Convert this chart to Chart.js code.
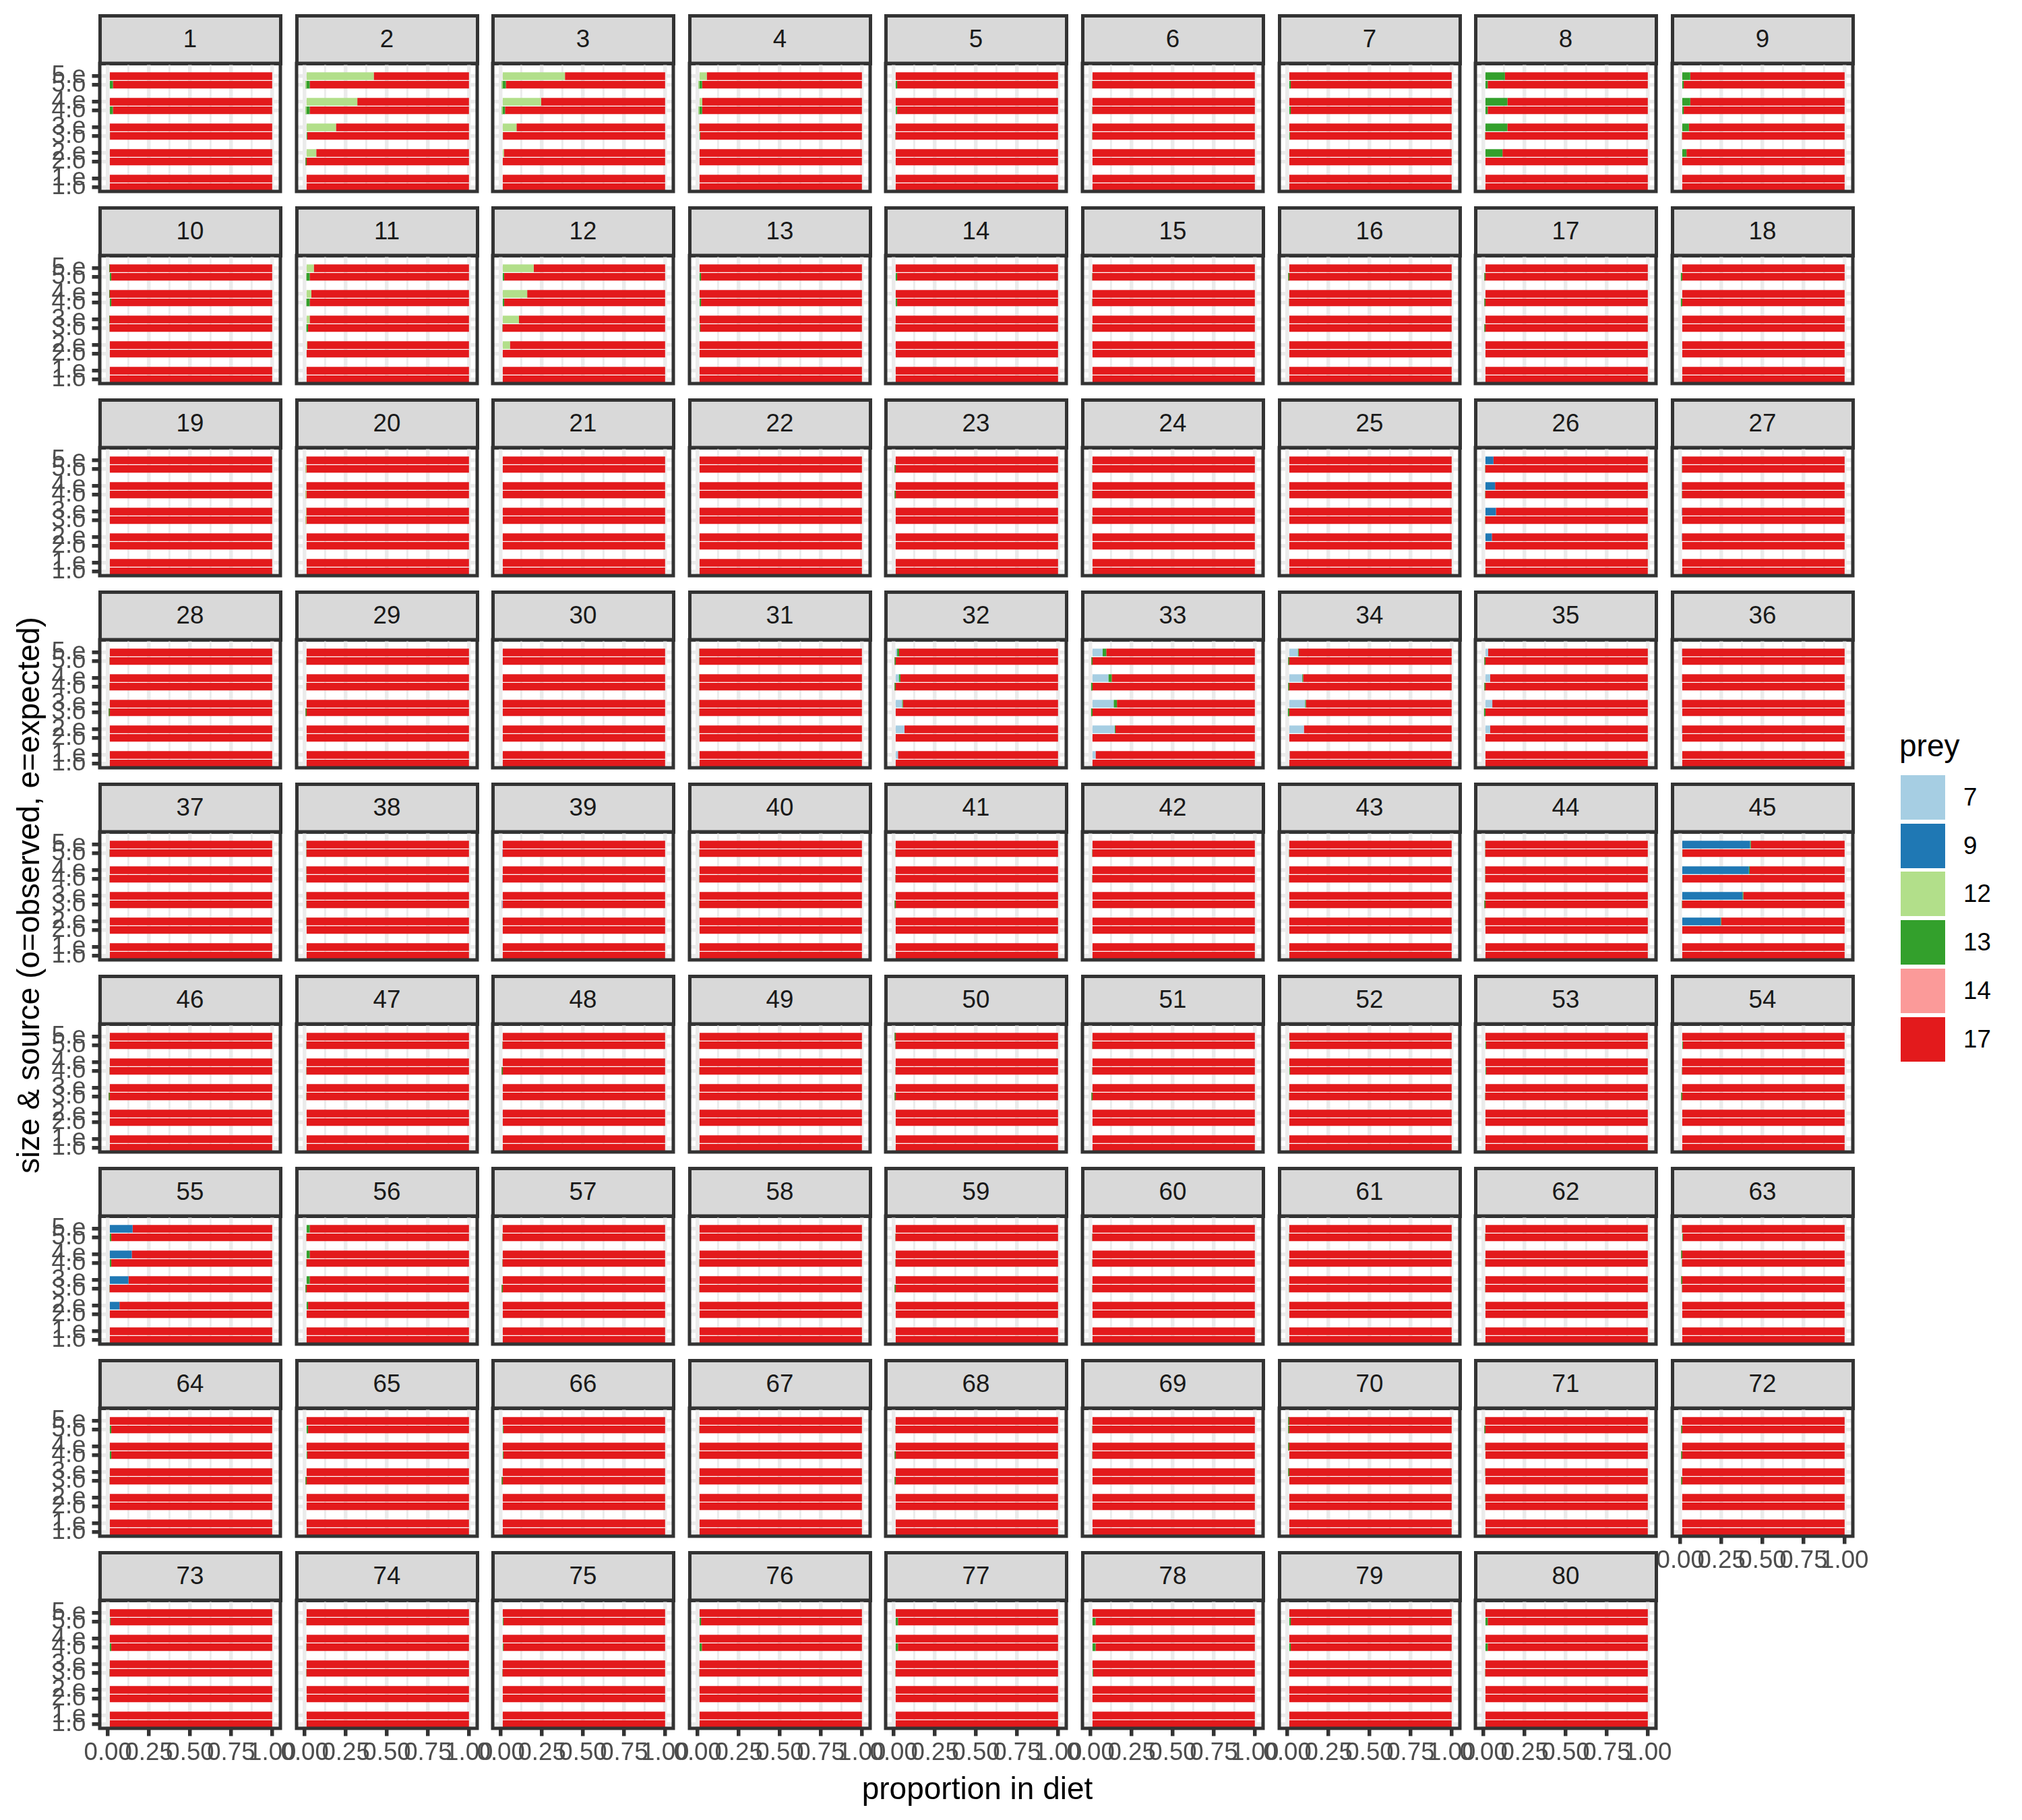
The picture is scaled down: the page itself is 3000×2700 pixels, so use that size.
<!DOCTYPE html>
<html>
<head>
<meta charset="utf-8">
<script src="https://cdn.jsdelivr.net/npm/chart.js@4.4.1/dist/chart.umd.min.js"></script>
<style>
html,body{margin:0;padding:0;background:#fff;}
#root{position:relative;width:3000px;height:2700px;overflow:hidden;background:#fff;font-family:"Liberation Sans",Arial,sans-serif;}
.strip{position:absolute;box-sizing:border-box;background:#D9D9D9;border:5px solid #333333;display:flex;align-items:center;justify-content:center;font-size:36.7px;color:#1A1A1A;line-height:1;}
canvas{position:absolute;}
.txt{position:absolute;white-space:nowrap;line-height:1;}
.key{position:absolute;width:66px;height:66px;}
</style>
</head>
<body>
<div id="root"></div>
<script>
// ---------------- DATA ----------------
// bars inside every panel, top to bottom
const barLabels = ['5.e','5.o','4.e','4.o','3.e','3.o','2.e','2.o','1.e','1.o'];
// y axis categories (top to bottom), '' are empty slots between size groups
const axisCategories = ['', '5.e','5.o','', '4.e','4.o','', '3.e','3.o','', '2.e','2.o','', '1.e','1.o'];
const panelIds = Array.from({length:80},(_,i)=>String(i+1));
const preyLevels = ['7','9','12','13','14','17'];
const preyColors = ['#A6CEE3','#1F78B4','#B2DF8A','#33A02C','#FB9A99','#E31A1C'];
const xTickValues = [0,0.125,0.25,0.375,0.5,0.625,0.75,0.875,1];

// proportions per panel (panels not listed have 0 for that prey); order follows barLabels
const prey7 = {
  32:[.02,0,.03,0,.05,0,.065,0,.025,0],
  33:[.073,0,.108,0,.14,0,.146,0,.03,0],
  34:[.063,0,.09,0,.107,0,.1,0,.013,0],
  35:[.028,0,.04,0,.053,0,.04,0,0,0],
  36:[.01,0,.01,0,.01,0,.008,0,0,0],
  39:[0,.008,0,.008,0,.005,0,0,0,0]
};
const prey9 = {
  26:[.06,0,.07,0,.075,0,.05,0,0,0],
  27:[.01,0,.01,0,.01,0,.01,0,0,0],
  45:[.424,0,.417,0,.378,0,.245,0,0,0],
  55:[.15,0,.145,0,.125,0,.07,0,0,0]
};
const prey12 = {
  2:[.42,.005,.32,.005,.19,0,.07,0,0,0],
  3:[.39,.005,.245,.005,.095,0,.018,0,0,0],
  4:[.055,.005,.028,.005,.008,0,0,0,0,0],
  11:[.055,.01,.04,.01,.03,.01,.015,0,0,0],
  12:[.2,0,.16,0,.11,0,.055,0,0,0],
  20:[.01,.005,.01,.005,.008,.005,0,0,0,0]
};
const prey13 = {
  1:[0,.03,0,.03,0,.012,0,0,0,0],
  2:[0,.025,0,.025,0,.015,0,.005,0,0],
  3:[0,.025,0,.02,0,.012,0,0,0,0],
  4:[0,.022,0,.022,0,.015,0,0,0,0],
  5:[0,.02,0,.02,0,.01,0,0,0,0],
  6:[0,.01,0,.01,0,.01,0,0,0,0],
  7:[0,.02,0,.02,0,.015,0,0,0,0],
  8:[.13,.025,.145,.025,.145,.01,.115,0,0,0],
  9:[.06,.02,.06,.02,.052,.01,.037,0,0,0],
  10:[.008,.02,.008,.02,.008,.01,0,0,0,0],
  11:[0,.02,0,.02,0,.01,0,0,0,0],
  12:[0,.02,0,.02,0,.01,0,0,0,0],
  13:[0,.02,0,.02,0,.015,0,0,0,0],
  14:[0,.02,0,.02,0,.01,0,0,0,0],
  15:[0,.01,0,.01,0,.01,0,0,0,0],
  16:[0,.005,0,.01,0,0,0,0,0,0],
  17:[0,.005,0,.005,0,.005,0,0,0,0],
  18:[0,.003,0,.003,0,0,0,0,0,0],
  23:[0,.005,0,.005,0,0,0,0,0,0],
  24:[0,.01,0,.01,0,.01,0,0,0,0],
  26:[0,.01,0,.01,0,.01,0,0,0,0],
  27:[0,.01,0,.01,0,0,0,0,0,0],
  28:[0,.01,0,.01,0,.005,0,0,0,0],
  29:[0,.01,0,.01,0,.005,0,0,0,0],
  31:[.01,.01,.01,.01,.01,.01,.01,0,0,0],
  32:[.012,.005,.01,.005,.005,0,0,0,0,0],
  33:[.022,.005,.02,.003,.02,.003,.005,0,0,0],
  34:[.005,.005,.005,.005,.005,.003,0,0,0,0],
  35:[0,.005,0,.005,0,.003,0,0,0,0],
  37:[0,.01,0,.01,0,0,0,0,0,0],
  38:[.01,.01,.01,.01,.01,.01,.01,0,0,0],
  40:[0,.01,0,.01,0,.01,0,0,0,0],
  41:[0,.01,0,.01,0,.005,0,0,0,0],
  42:[0,.01,0,.01,0,0,0,0,0,0],
  43:[0,.01,0,.01,0,0,0,0,0,0],
  44:[.01,.01,.01,.01,.01,.005,.01,0,0,0],
  45:[.005,.012,.005,.012,.005,.01,.003,0,0,0],
  46:[0,.01,0,.01,0,.005,0,0,0,0],
  47:[0,.01,0,.01,0,.01,0,0,0,0],
  48:[0,.01,0,.005,0,0,0,0,0,0],
  49:[0,.01,0,.01,0,.01,0,0,0,0],
  50:[.005,.01,0,.01,0,.005,0,0,0,0],
  51:[0,.01,0,.01,0,.005,0,0,0,0],
  52:[0,.015,0,.015,0,.01,0,0,0,0],
  53:[0,.015,0,.015,0,.01,0,0,0,0],
  54:[0,.015,0,.01,0,.005,0,0,0,0],
  55:[0,.02,0,.02,0,.01,0,0,0,0],
  56:[.03,.01,.03,.01,.03,.005,.02,0,0,0],
  57:[0,.01,0,.01,0,.005,0,0,0,0],
  58:[0,0,0,.01,0,.01,0,0,0,0],
  59:[0,.01,0,.01,0,.005,0,0,0,0],
  60:[0,.01,0,.01,0,.01,0,0,0,0],
  61:[0,.01,0,.01,0,.01,0,0,0,0],
  62:[0,.01,0,.01,0,.01,0,0,0,0],
  63:[.01,.015,.005,.01,.005,.01,0,0,0,0],
  64:[0,.02,0,.02,0,.01,0,0,0,0],
  65:[0,.02,0,.015,0,.005,0,0,0,0],
  66:[0,.015,0,.015,0,.005,0,0,0,0],
  67:[0,.01,0,.01,0,.01,0,0,0,0],
  68:[0,.01,0,.005,0,.005,0,0,0,0],
  69:[0,.01,0,.01,0,0,0,0,0,0],
  70:[.005,.005,.005,0,.005,0,0,0,0,0],
  71:[.01,.005,.01,0,.01,0,.01,0,0,0],
  72:[0,.005,0,.005,0,.005,0,0,0,0],
  73:[0,.015,0,.02,0,.01,0,0,0,0],
  74:[0,.01,0,.01,0,.01,0,0,0,0],
  75:[0,.015,0,.015,0,.01,0,0,0,0],
  76:[0,.02,0,.025,0,.01,0,0,0,0],
  77:[0,.025,0,.025,0,.01,0,0,0,0],
  78:[0,.03,0,.03,0,.015,0,0,0,0],
  79:[0,.02,0,.02,0,.01,0,0,0,0],
  80:[0,.025,0,.025,0,.01,0,0,0,0]
};
const prey14 = {};
const prey17 = [
  [1,.97,1,.97,1,.988,1,1,1,1],
  [.58,.97,.68,.97,.81,.985,.93,.995,1,1],
  [.61,.97,.755,.975,.905,.988,.982,1,1,1],
  [.945,.973,.972,.973,.992,.985,1,1,1,1],
  [1,.98,1,.98,1,.99,1,1,1,1],
  [1,.99,1,.99,1,.99,1,1,1,1],
  [1,.98,1,.98,1,.985,1,1,1,1],
  [.87,.975,.855,.975,.855,.99,.885,1,1,1],
  [.94,.98,.94,.98,.948,.99,.963,1,1,1],
  [.992,.98,.992,.98,.992,.99,1,1,1,1],
  [.945,.97,.96,.97,.97,.98,.985,1,1,1],
  [.8,.98,.84,.98,.89,.99,.945,1,1,1],
  [1,.98,1,.98,1,.985,1,1,1,1],
  [1,.98,1,.98,1,.99,1,1,1,1],
  [1,.99,1,.99,1,.99,1,1,1,1],
  [1,.995,1,.99,1,1,1,1,1,1],
  [1,.995,1,.995,1,.995,1,1,1,1],
  [1,.997,1,.997,1,1,1,1,1,1],
  [1,1,1,1,1,1,1,1,1,1],
  [.99,.995,.99,.995,.992,.995,1,1,1,1],
  [1,1,1,1,1,1,1,1,1,1],
  [1,1,1,1,1,1,1,1,1,1],
  [1,.995,1,.995,1,1,1,1,1,1],
  [1,.99,1,.99,1,.99,1,1,1,1],
  [1,1,1,1,1,1,1,1,1,1],
  [.94,.99,.93,.99,.925,.99,.95,1,1,1],
  [.99,.99,.99,.99,.99,1,.99,1,1,1],
  [1,.99,1,.99,1,.995,1,1,1,1],
  [1,.99,1,.99,1,.995,1,1,1,1],
  [1,1,1,1,1,1,1,1,1,1],
  [.99,.99,.99,.99,.99,.99,.99,1,1,1],
  [.968,.995,.96,.995,.945,1,.935,1,.975,1],
  [.905,.995,.872,.997,.84,.997,.849,1,.97,1],
  [.932,.995,.905,.995,.888,.997,.9,1,.987,1],
  [.972,.995,.96,.995,.947,.997,.96,1,1,1],
  [.99,1,.99,1,.99,1,.992,1,1,1],
  [1,.99,1,.99,1,1,1,1,1,1],
  [.99,.99,.99,.99,.99,.99,.99,1,1,1],
  [1,.992,1,.992,1,.995,1,1,1,1],
  [1,.99,1,.99,1,.99,1,1,1,1],
  [1,.99,1,.99,1,.995,1,1,1,1],
  [1,.99,1,.99,1,1,1,1,1,1],
  [1,.99,1,.99,1,1,1,1,1,1],
  [.99,.99,.99,.99,.99,.995,.99,1,1,1],
  [.571,.988,.578,.988,.617,.99,.752,1,1,1],
  [1,.99,1,.99,1,.995,1,1,1,1],
  [1,.99,1,.99,1,.99,1,1,1,1],
  [1,.99,1,.995,1,1,1,1,1,1],
  [1,.99,1,.99,1,.99,1,1,1,1],
  [.995,.99,1,.99,1,.995,1,1,1,1],
  [1,.99,1,.99,1,.995,1,1,1,1],
  [1,.985,1,.985,1,.99,1,1,1,1],
  [1,.985,1,.985,1,.99,1,1,1,1],
  [1,.985,1,.99,1,.995,1,1,1,1],
  [.85,.98,.855,.98,.875,.99,.93,1,1,1],
  [.97,.99,.97,.99,.97,.995,.98,1,1,1],
  [1,.99,1,.99,1,.995,1,1,1,1],
  [1,1,1,.99,1,.99,1,1,1,1],
  [1,.99,1,.99,1,.995,1,1,1,1],
  [1,.99,1,.99,1,.99,1,1,1,1],
  [1,.99,1,.99,1,.99,1,1,1,1],
  [1,.99,1,.99,1,.99,1,1,1,1],
  [.99,.985,.995,.99,.995,.99,1,1,1,1],
  [1,.98,1,.98,1,.99,1,1,1,1],
  [1,.98,1,.985,1,.995,1,1,1,1],
  [1,.985,1,.985,1,.995,1,1,1,1],
  [1,.99,1,.99,1,.99,1,1,1,1],
  [1,.99,1,.995,1,.995,1,1,1,1],
  [1,.99,1,.99,1,1,1,1,1,1],
  [.995,.995,.995,1,.995,1,1,1,1,1],
  [.99,.995,.99,1,.99,1,.99,1,1,1],
  [1,.995,1,.995,1,.995,1,1,1,1],
  [1,.985,1,.98,1,.99,1,1,1,1],
  [1,.99,1,.99,1,.99,1,1,1,1],
  [1,.985,1,.985,1,.99,1,1,1,1],
  [1,.98,1,.975,1,.99,1,1,1,1],
  [1,.975,1,.975,1,.99,1,1,1,1],
  [1,.97,1,.97,1,.985,1,1,1,1],
  [1,.98,1,.98,1,.99,1,1,1,1],
  [1,.975,1,.975,1,.99,1,1,1,1]
];

// ---------------- LAYOUT ----------------
const FONT = '"Liberation Sans", Arial, sans-serif';
const X0 = 148, PITCHX = 291.6, PW = 268;
const Y0 = 23, PITCHY = 285, STRIPH = 71, PH = 190;
const NCOL = 9;
const M = 40, YW = 140, XH = 70;
const root = document.getElementById('root');

function seriesRow(series, panelNo){
  const row = series[panelNo];
  return row ? row : barLabels.map(()=>0);
}
function panelSeries(panelNo){
  return [seriesRow(prey7,panelNo), seriesRow(prey9,panelNo), seriesRow(prey12,panelNo),
          seriesRow(prey13,panelNo), seriesRow(prey14,panelNo), prey17[panelNo-1]];
}
const isMajor = v => Math.abs(v*4 - Math.round(v*4)) < 1e-9;

const borderPlugin = {
  id:'panelBorder',
  afterDraw(chart){
    const a = chart.chartArea, ctx = chart.ctx;
    ctx.save();
    ctx.strokeStyle = '#333333';
    ctx.lineWidth = 5;
    ctx.strokeRect(a.left, a.top, a.right-a.left, a.bottom-a.top);
    ctx.restore();
  }
};

function addText(txt, x, y, size, color, anchor, rotate){
  const d = document.createElement('div');
  d.className = 'txt';
  d.textContent = txt;
  d.style.fontSize = size+'px';
  d.style.color = color;
  d.style.left = x+'px';
  d.style.top = y+'px';
  const tx = anchor==='left' ? '0' : '-50%';
  d.style.transform = 'translate('+tx+',-50%)' + (rotate ? ' rotate('+rotate+'deg)' : '');
  if (rotate) { d.style.transformOrigin = '0 0'; d.style.transform = 'rotate('+rotate+'deg) translate(-50%,-50%)'; }
  root.appendChild(d);
}

panelIds.forEach((id, i) => {
  const panelNo = i+1;
  const c = i % NCOL, r = Math.floor(i / NCOL);
  const px = Math.round(X0 + c*PITCHX);
  const sy = Math.round(Y0 + r*PITCHY);
  const py = sy + STRIPH;
  const isLeft = c === 0;
  const isBottom = (r === 8) || (r === 7 && c === 8);
  const yw = isLeft ? YW : 0, xh = isBottom ? XH : 0;

  // strip
  const s = document.createElement('div');
  s.className = 'strip';
  s.style.left = (px-2.5)+'px';
  s.style.top = (sy-2.5)+'px';
  s.style.width = (PW+5)+'px';
  s.style.height = (STRIPH+5)+'px';
  s.textContent = id;
  root.appendChild(s);

  // canvas
  const cv = document.createElement('canvas');
  cv.width = M + yw + PW + M;
  cv.height = M + PH + xh + M;
  cv.style.width = cv.width+'px';
  cv.style.height = cv.height+'px';
  cv.style.left = (px - yw - M)+'px';
  cv.style.top = (py - M)+'px';
  root.appendChild(cv);

  const rows = panelSeries(panelNo);
  const datasets = preyLevels.map((lvl, k) => ({
    label: lvl,
    backgroundColor: preyColors[k],
    borderWidth: 0,
    barPercentage: 0.9,
    categoryPercentage: 1.0,
    data: axisCategories.map(cat => cat === '' ? null : rows[k][barLabels.indexOf(cat)])
  }));

  new Chart(cv, {
    type: 'bar',
    data: { labels: axisCategories, datasets },
    plugins: [borderPlugin],
    options: {
      indexAxis: 'y',
      responsive: false,
      animation: false,
      devicePixelRatio: 1,
      layout: { padding: { left: M, right: M, top: M, bottom: M } },
      plugins: { legend: { display: false }, tooltip: { enabled: false } },
      scales: {
        x: {
          type: 'linear', stacked: true, min: -0.05, max: 1.05,
          afterBuildTicks: sc => { sc.ticks = xTickValues.map(v => ({ value: v })); },
          afterFit: sc => { sc.height = xh; sc.paddingLeft = 0; sc.paddingRight = 0; sc.paddingTop = 0; sc.paddingBottom = 0; },
          border: { display: false },
          grid: {
            offset: false,
            color: '#EBEBEB',
            lineWidth: ctx => (ctx.tick && isMajor(ctx.tick.value)) ? 5.5 : 2.8,
            drawTicks: isBottom,
            tickLength: 11.5,
            tickWidth: 5.5,
            tickColor: ctx => (ctx.tick && isMajor(ctx.tick.value)) ? '#333333' : 'rgba(0,0,0,0)'
          },
          ticks: {
            display: isBottom, autoSkip: false, maxRotation: 0, minRotation: 0, padding: 3,
            color: '#4D4D4D', font: { family: FONT, size: 36.7 },
            callback: v => isMajor(v) ? Number(v).toFixed(2) : ''
          }
        },
        y: {
          type: 'category', stacked: true,
          afterFit: sc => { sc.width = yw; sc.paddingLeft = 0; sc.paddingRight = 0; sc.paddingTop = 0; sc.paddingBottom = 0; },
          border: { display: false },
          grid: {
            offset: false,
            color: ctx => axisCategories[ctx.index] ? '#EBEBEB' : 'rgba(0,0,0,0)',
            lineWidth: 5.5,
            drawTicks: isLeft,
            tickLength: 11.5,
            tickWidth: 5.5,
            tickColor: ctx => axisCategories[ctx.index] ? '#333333' : 'rgba(0,0,0,0)'
          },
          ticks: {
            display: isLeft, autoSkip: false, padding: 9,
            color: '#4D4D4D', font: { family: FONT, size: 36.7 }
          }
        }
      }
    }
  });
});

// axis titles
addText('proportion in diet', 1450, 2653, 46, '#000000', 'center');
addText('size & source (o=observed, e=expected)', 42, 1328, 46, '#000000', 'center', -90);

// legend
addText('prey', 2818, 1106, 46, '#000000', 'left');
preyLevels.forEach((lvl, k) => {
  const cy = 1183 + k*71.7;
  const key = document.createElement('div');
  key.className = 'key';
  key.style.left = '2820px';
  key.style.top = (cy-33)+'px';
  key.style.background = preyColors[k];
  root.appendChild(key);
  addText(lvl, 2913, cy, 36.7, '#000000', 'left');
});
</script>
</body>
</html>
